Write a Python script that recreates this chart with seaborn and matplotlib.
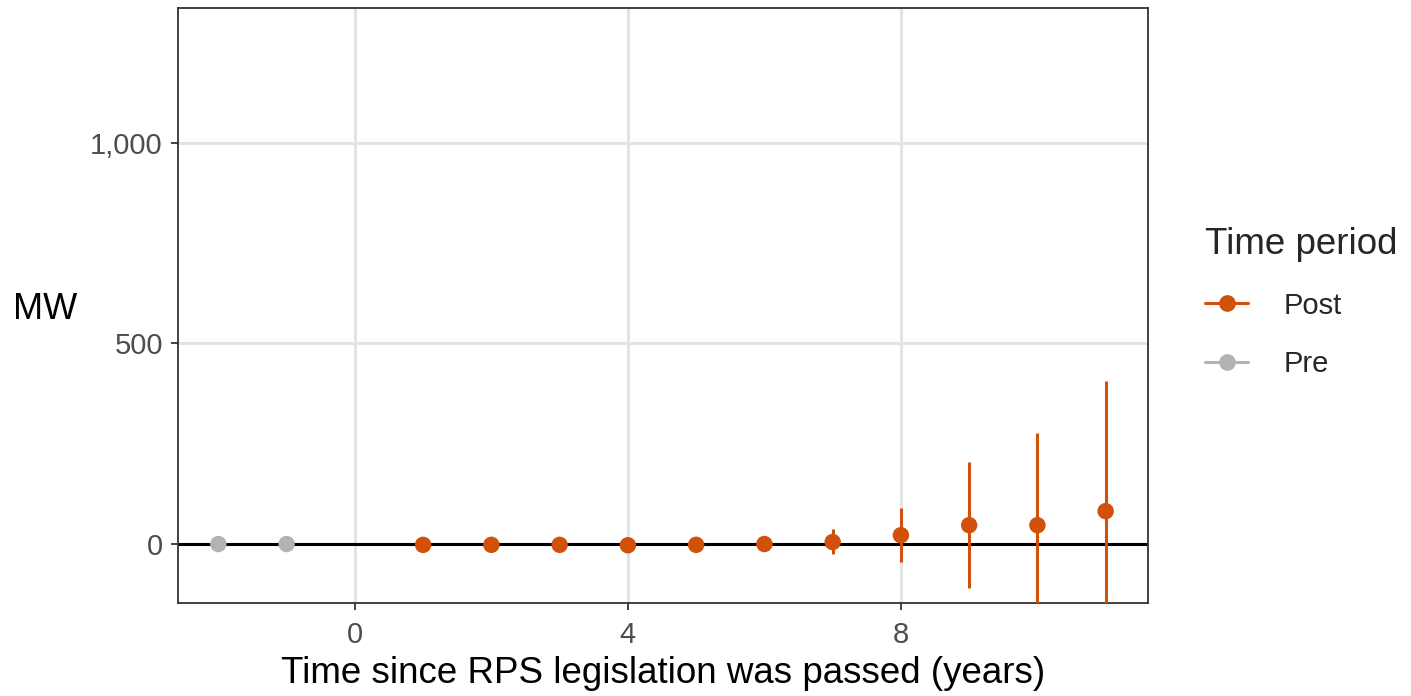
import matplotlib
matplotlib.use("Agg")
import matplotlib.pyplot as plt
import matplotlib.ticker as mticker
from matplotlib.lines import Line2D
import seaborn as sns
import pandas as pd

# event-study estimates (MW)
years = [-2, -1, 1, 2, 3, 4, 5, 6, 7, 8, 9, 10, 11]
estimate = [0, 0, -2, -2, -2, -3, -2, 0, 5, 22, 47, 47, 82]
ci_low = [0, 0, -6, -6, -7, -8, -8, -8, -25, -45, -110, -185, -240]
ci_high = [0, 0, 2, 2, 3, 2, 4, 8, 37, 90, 204, 277, 406]
period = ['Pre', 'Pre'] + ['Post'] * 11

palette = {'Post': '#D1500A', 'Pre': '#B3B3B3'}

df = pd.DataFrame({'t': years, 'est': estimate, 'lo': ci_low, 'hi': ci_high, 'period': period})

sns.set_theme(style="white")
plt.rcParams['font.family'] = ['Liberation Sans', 'DejaVu Sans']

fig = plt.figure(figsize=(14.11, 6.96), dpi=100)
ax = fig.add_axes([0.1262, 0.1336, 0.6874, 0.8549])

# grid
ax.set_axisbelow(True)
ax.grid(True, color='#E3E3E3', linewidth=2.2)

ax.axhline(0, color='black', linewidth=2.2, zorder=2)

# error bars
for p, g in df.groupby('period'):
    ax.vlines(g['t'], g['lo'], g['hi'], color=palette[p], linewidth=2.2, zorder=3)

sns.scatterplot(data=df, x='t', y='est', hue='period', palette=palette,
                s=140, linewidth=0, ax=ax, legend=False, zorder=4)

ax.set_xlim(-2.59, 11.62)
ax.set_ylim(-147, 1336)
ax.set_xticks([0, 4, 8])
ax.set_yticks([0, 500, 1000])
ax.yaxis.set_major_formatter(mticker.FuncFormatter(lambda v, _: f"{int(v):,}"))

for s in ax.spines.values():
    s.set_color('#333333')
    s.set_linewidth(1.3)

ax.tick_params(axis='both', length=5, width=1.3, color='#333333',
               labelsize=21, labelcolor='#4D4D4D', pad=6)
ax.tick_params(axis='x', pad=8)
ax.tick_params(left=True, bottom=True)

ax.set_xlabel('Time since RPS legislation was passed (years)', fontsize=26.5, color='black', labelpad=5)
ax.set_ylabel('MW', fontsize=26, color='black', rotation=0, va='center', ha='center')
ax.yaxis.set_label_coords(-0.137, 0.494)

handles = [Line2D([0], [0], color=palette[k], marker='o', markersize=11, linewidth=2.2)
           for k in ['Post', 'Pre']]
leg = fig.legend(handles, ['Post', 'Pre'], title='Time period', loc='upper left',
                 bbox_to_anchor=(0.8455, 0.69), frameon=False, fontsize=21,
                 title_fontsize=26.5, handlelength=1.5, labelspacing=1.05,
                 handletextpad=1.2, borderaxespad=0)
leg._legend_box.align = 'left'
leg._legend_box.sep = 21

fig.savefig('out.png', dpi=100)
